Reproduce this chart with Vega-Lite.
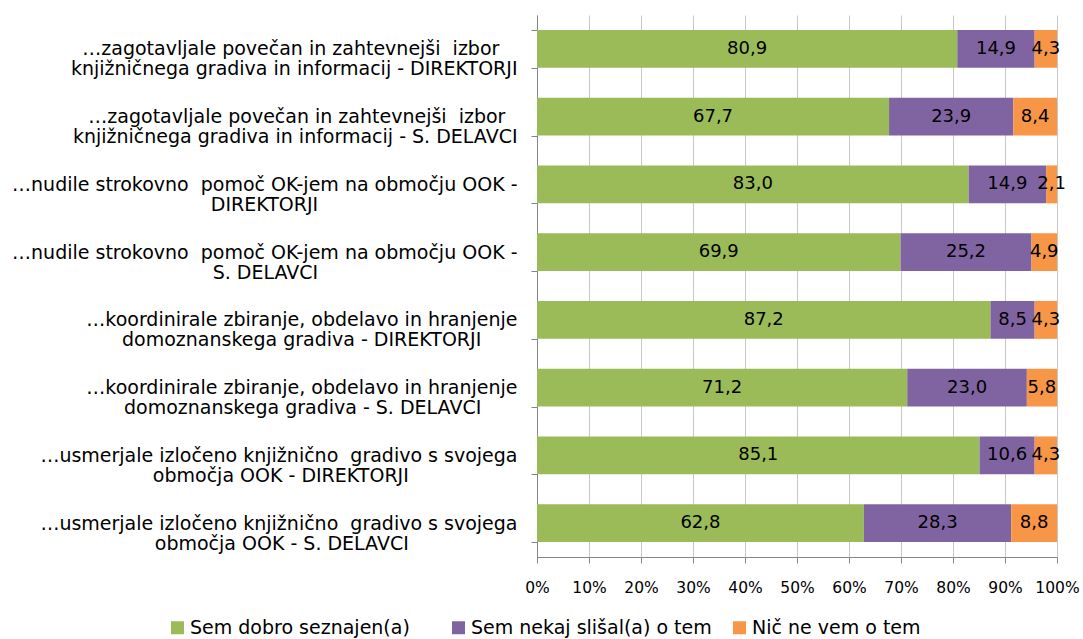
{
  "$schema": "https://vega.github.io/schema/vega-lite/v6.json",
  "autosize": {"type": "none"},
  "padding": {"left": 537, "top": 15, "right": 26, "bottom": 82},
  "width": 520,
  "height": 542,
  "config": {
    "font": "DejaVu Sans",
    "view": {"stroke": null},
    "locale": {"number": {"decimal": ",", "thousands": ".", "grouping": [3], "currency": ["", " €"]}}
  },
  "datasets": {
    "rows": [
      {"q": "…zagotavljale povečan in zahtevnejši\u00a0 izbor\u00a0\u00a0\u00a0\u200b|knjižničnega gradiva in informacij - DIREKTORJI", "a": "Sem dobro seznajen(a)", "o": 1, "v": 80.9},
      {"q": "…zagotavljale povečan in zahtevnejši\u00a0 izbor\u00a0\u00a0\u00a0\u200b|knjižničnega gradiva in informacij - DIREKTORJI", "a": "Sem nekaj slišal(a) o tem", "o": 2, "v": 14.9},
      {"q": "…zagotavljale povečan in zahtevnejši\u00a0 izbor\u00a0\u00a0\u00a0\u200b|knjižničnega gradiva in informacij - DIREKTORJI", "a": "Nič ne vem o tem", "o": 3, "v": 4.3},
      {"q": "…zagotavljale povečan in zahtevnejši\u00a0 izbor\u00a0\u00a0\u200b|knjižničnega gradiva in informacij - S. DELAVCI", "a": "Sem dobro seznajen(a)", "o": 1, "v": 67.7},
      {"q": "…zagotavljale povečan in zahtevnejši\u00a0 izbor\u00a0\u00a0\u200b|knjižničnega gradiva in informacij - S. DELAVCI", "a": "Sem nekaj slišal(a) o tem", "o": 2, "v": 23.9},
      {"q": "…zagotavljale povečan in zahtevnejši\u00a0 izbor\u00a0\u00a0\u200b|knjižničnega gradiva in informacij - S. DELAVCI", "a": "Nič ne vem o tem", "o": 3, "v": 8.4},
      {"q": "…nudile strokovno\u00a0 pomoč OK-jem na območju OOK -|DIREKTORJI\u00a0\u00a0\u00a0\u00a0\u00a0\u00a0\u00a0\u00a0\u00a0\u00a0\u00a0\u00a0\u00a0\u00a0\u00a0\u00a0\u00a0\u00a0\u00a0\u00a0\u00a0\u00a0\u00a0\u00a0\u00a0\u00a0\u00a0\u00a0\u00a0\u00a0\u00a0\u00a0\u00a0\u200b", "a": "Sem dobro seznajen(a)", "o": 1, "v": 83.0},
      {"q": "…nudile strokovno\u00a0 pomoč OK-jem na območju OOK -|DIREKTORJI\u00a0\u00a0\u00a0\u00a0\u00a0\u00a0\u00a0\u00a0\u00a0\u00a0\u00a0\u00a0\u00a0\u00a0\u00a0\u00a0\u00a0\u00a0\u00a0\u00a0\u00a0\u00a0\u00a0\u00a0\u00a0\u00a0\u00a0\u00a0\u00a0\u00a0\u00a0\u00a0\u00a0\u200b", "a": "Sem nekaj slišal(a) o tem", "o": 2, "v": 14.9},
      {"q": "…nudile strokovno\u00a0 pomoč OK-jem na območju OOK -|DIREKTORJI\u00a0\u00a0\u00a0\u00a0\u00a0\u00a0\u00a0\u00a0\u00a0\u00a0\u00a0\u00a0\u00a0\u00a0\u00a0\u00a0\u00a0\u00a0\u00a0\u00a0\u00a0\u00a0\u00a0\u00a0\u00a0\u00a0\u00a0\u00a0\u00a0\u00a0\u00a0\u00a0\u00a0\u200b", "a": "Nič ne vem o tem", "o": 3, "v": 2.1},
      {"q": "…nudile strokovno\u00a0 pomoč OK-jem na območju OOK -|S. DELAVCI\u00a0\u00a0\u00a0\u00a0\u00a0\u00a0\u00a0\u00a0\u00a0\u00a0\u00a0\u00a0\u00a0\u00a0\u00a0\u00a0\u00a0\u00a0\u00a0\u00a0\u00a0\u00a0\u00a0\u00a0\u00a0\u00a0\u00a0\u00a0\u00a0\u00a0\u00a0\u00a0\u00a0\u200b", "a": "Sem dobro seznajen(a)", "o": 1, "v": 69.9},
      {"q": "…nudile strokovno\u00a0 pomoč OK-jem na območju OOK -|S. DELAVCI\u00a0\u00a0\u00a0\u00a0\u00a0\u00a0\u00a0\u00a0\u00a0\u00a0\u00a0\u00a0\u00a0\u00a0\u00a0\u00a0\u00a0\u00a0\u00a0\u00a0\u00a0\u00a0\u00a0\u00a0\u00a0\u00a0\u00a0\u00a0\u00a0\u00a0\u00a0\u00a0\u00a0\u200b", "a": "Sem nekaj slišal(a) o tem", "o": 2, "v": 25.2},
      {"q": "…nudile strokovno\u00a0 pomoč OK-jem na območju OOK -|S. DELAVCI\u00a0\u00a0\u00a0\u00a0\u00a0\u00a0\u00a0\u00a0\u00a0\u00a0\u00a0\u00a0\u00a0\u00a0\u00a0\u00a0\u00a0\u00a0\u00a0\u00a0\u00a0\u00a0\u00a0\u00a0\u00a0\u00a0\u00a0\u00a0\u00a0\u00a0\u00a0\u00a0\u00a0\u200b", "a": "Nič ne vem o tem", "o": 3, "v": 4.9},
      {"q": "…koordinirale zbiranje, obdelavo in hranjenje|domoznanskega gradiva - DIREKTORJI\u00a0\u00a0\u00a0\u00a0\u00a0\u00a0\u200b", "a": "Sem dobro seznajen(a)", "o": 1, "v": 87.2},
      {"q": "…koordinirale zbiranje, obdelavo in hranjenje|domoznanskega gradiva - DIREKTORJI\u00a0\u00a0\u00a0\u00a0\u00a0\u00a0\u200b", "a": "Sem nekaj slišal(a) o tem", "o": 2, "v": 8.5},
      {"q": "…koordinirale zbiranje, obdelavo in hranjenje|domoznanskega gradiva - DIREKTORJI\u00a0\u00a0\u00a0\u00a0\u00a0\u00a0\u200b", "a": "Nič ne vem o tem", "o": 3, "v": 4.3},
      {"q": "…koordinirale zbiranje, obdelavo in hranjenje|domoznanskega gradiva - S. DELAVCI\u00a0\u00a0\u00a0\u00a0\u00a0\u00a0\u200b", "a": "Sem dobro seznajen(a)", "o": 1, "v": 71.2},
      {"q": "…koordinirale zbiranje, obdelavo in hranjenje|domoznanskega gradiva - S. DELAVCI\u00a0\u00a0\u00a0\u00a0\u00a0\u00a0\u200b", "a": "Sem nekaj slišal(a) o tem", "o": 2, "v": 23.0},
      {"q": "…koordinirale zbiranje, obdelavo in hranjenje|domoznanskega gradiva - S. DELAVCI\u00a0\u00a0\u00a0\u00a0\u00a0\u00a0\u200b", "a": "Nič ne vem o tem", "o": 3, "v": 5.8},
      {"q": "…usmerjale izločeno knjižnično\u00a0 gradivo s svojega|območja OOK - DIREKTORJI\u00a0\u00a0\u00a0\u00a0\u00a0\u00a0\u00a0\u00a0\u00a0\u00a0\u00a0\u00a0\u00a0\u00a0\u00a0\u00a0\u00a0\u00a0\u200b", "a": "Sem dobro seznajen(a)", "o": 1, "v": 85.1},
      {"q": "…usmerjale izločeno knjižnično\u00a0 gradivo s svojega|območja OOK - DIREKTORJI\u00a0\u00a0\u00a0\u00a0\u00a0\u00a0\u00a0\u00a0\u00a0\u00a0\u00a0\u00a0\u00a0\u00a0\u00a0\u00a0\u00a0\u00a0\u200b", "a": "Sem nekaj slišal(a) o tem", "o": 2, "v": 10.6},
      {"q": "…usmerjale izločeno knjižnično\u00a0 gradivo s svojega|območja OOK - DIREKTORJI\u00a0\u00a0\u00a0\u00a0\u00a0\u00a0\u00a0\u00a0\u00a0\u00a0\u00a0\u00a0\u00a0\u00a0\u00a0\u00a0\u00a0\u00a0\u200b", "a": "Nič ne vem o tem", "o": 3, "v": 4.3},
      {"q": "…usmerjale izločeno knjižnično\u00a0 gradivo s svojega|območja OOK - S. DELAVCI\u00a0\u00a0\u00a0\u00a0\u00a0\u00a0\u00a0\u00a0\u00a0\u00a0\u00a0\u00a0\u00a0\u00a0\u00a0\u00a0\u00a0\u00a0\u200b", "a": "Sem dobro seznajen(a)", "o": 1, "v": 62.8},
      {"q": "…usmerjale izločeno knjižnično\u00a0 gradivo s svojega|območja OOK - S. DELAVCI\u00a0\u00a0\u00a0\u00a0\u00a0\u00a0\u00a0\u00a0\u00a0\u00a0\u00a0\u00a0\u00a0\u00a0\u00a0\u00a0\u00a0\u00a0\u200b", "a": "Sem nekaj slišal(a) o tem", "o": 2, "v": 28.3},
      {"q": "…usmerjale izločeno knjižnično\u00a0 gradivo s svojega|območja OOK - S. DELAVCI\u00a0\u00a0\u00a0\u00a0\u00a0\u00a0\u00a0\u00a0\u00a0\u00a0\u00a0\u00a0\u00a0\u00a0\u00a0\u00a0\u00a0\u00a0\u200b", "a": "Nič ne vem o tem", "o": 3, "v": 8.8}
    ]
  },
  "data": {"name": "rows"},
  "transform": [
    {"stack": "v", "groupby": ["q"], "sort": [{"field": "o", "order": "ascending"}], "as": ["x0", "x1"], "offset": "normalize"}
  ],
  "encoding": {
    "y": {
      "field": "q", "type": "nominal", "sort": null, "title": null,
      "scale": {"paddingInner": 0.44, "paddingOuter": 0.22},
      "axis": {
        "labelExpr": "split(datum.label, '|')",
        "labelFontSize": 19, "labelColor": "#000000", "labelLimit": 0, "labelOverlap": false,
        "labelLineHeight": 20, "labelPadding": 14, "tickBand": "extent", "tickSize": 6,
        "tickColor": "#868686", "domainColor": "#868686", "grid": false
      }
    }
  },
  "layer": [
    {
      "mark": {"type": "bar"},
      "encoding": {
        "x": {"field": "x0", "type": "quantitative", "scale": {"domain": [0, 1]}, "title": null,
          "axis": {"format": ".0%", "values": [0, 0.1, 0.2, 0.3, 0.4, 0.5, 0.6, 0.7, 0.8, 0.9, 1],
            "labelFontSize": 15.5, "labelColor": "#000000", "tickSize": 6, "labelPadding": 17,
            "gridColor": "#c8c8c8", "tickColor": "#868686", "domainColor": "#868686", "labelFlush": false}},
        "x2": {"field": "x1"},
        "color": {"field": "a", "type": "nominal", "title": null,
          "scale": {"domain": ["Sem dobro seznajen(a)", "Sem nekaj slišal(a) o tem", "Nič ne vem o tem"],
                    "range": ["#9BBB59", "#8064A2", "#F79646"]},
          "legend": {"orient": "none", "legendX": -369, "legendY": 603, "direction": "horizontal",
            "columns": 3, "gridAlign": "all",
            "symbolType": "square", "symbolSize": 169, "symbolStrokeWidth": 0, "labelFontSize": 19,
            "labelColor": "#000000", "columnPadding": 18, "labelOffset": 3, "labelLimit": 0}}
      }
    },
    {
      "transform": [{"calculate": "(datum.x0 + datum.x1) / 2", "as": "xm"}],
      "mark": {"type": "text", "fontSize": 18, "color": "#000000"},
      "encoding": {
        "x": {"field": "xm", "type": "quantitative"},
        "text": {"field": "v", "type": "quantitative", "format": ".1f"}
      }
    }
  ]
}
